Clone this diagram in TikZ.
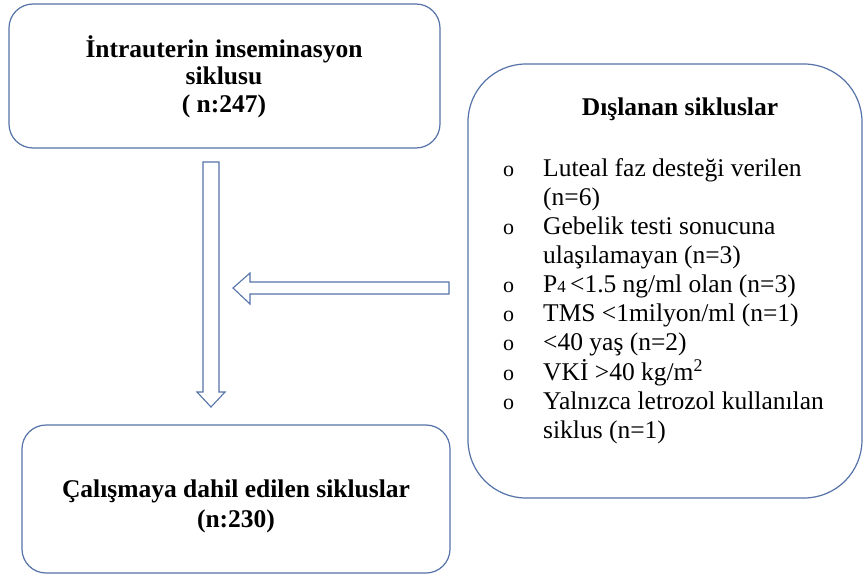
\documentclass[tikz,border=0pt]{standalone}
\usepackage{fontspec}
\setmainfont{Liberation Serif}
\usepackage{array}
\definecolor{bordr}{HTML}{5573A8}
\newcommand{\bulletmark}{{\fontsize{22}{22}\selectfont o}}
\begin{document}
\begin{tikzpicture}[x=1pt,y=-1pt,
  boxstyle/.style={draw=bordr,line width=1.2pt,fill=white,rectangle,inner sep=0pt},
  blockarrow/.style={draw=bordr,line width=1.1pt,fill=white,line join=miter},
  titletext/.style={font=\fontsize{25.5}{27.5}\selectfont\bfseries,align=center}]
\useasboundingbox (0,0) rectangle (865,575);
\node[boxstyle,rounded corners=24pt,minimum width=431pt,minimum height=144pt] (top) at (224.5,76) {};
\node[titletext] (toptext) at (224,76.5) {İntrauterin inseminasyon\\siklusu\\( n:247)};
\node[boxstyle,rounded corners=58pt,minimum width=394pt,minimum height=434pt] (excl) at (665,281) {};
\node[boxstyle,rounded corners=24pt,minimum width=428pt,minimum height=148pt] (incl) at (236,499) {};
\node[titletext,font=\fontsize{25.5}{30}\selectfont\bfseries] (incltext) at (236,506) {Çalışmaya dahil edilen sikluslar\\(n:230)};
\node[titletext] (excltitle) at (680,109) {Dışlanan sikluslar};
\node[anchor=north west,inner sep=0pt,font=\fontsize{25.5}{29}\selectfont,align=left] (list) at (503,156) {%
\begin{tabular}{@{}p{40pt}@{}l@{}}
\bulletmark & Luteal faz desteği verilen\\
  & (n=6)\\
\bulletmark & Gebelik testi sonucuna\\
  & ulaşılamayan (n=3)\\
\bulletmark & P{\fontsize{17}{17}\selectfont 4}\,<1.5 ng/ml olan (n=3)\\
\bulletmark & TMS <1milyon/ml (n=1)\\
\bulletmark & <40 yaş (n=2)\\
\bulletmark & VKİ >40 kg/m\textsuperscript{2}\\
\bulletmark & Yalnızca letrozol kullanılan\\
  & siklus (n=1)
\end{tabular}};
% down arrow from top box to inclusion box
\draw[blockarrow] (203,162) -- (219,162) -- (219,392) -- (225,392) -- (211,407) -- (197,392) -- (203,392) -- cycle;
% left arrow from exclusion box
\draw[blockarrow] (449,282) -- (449,294) -- (250,294) -- (250,304) -- (233,288) -- (250,273) -- (250,282) -- cycle;
\end{tikzpicture}
\end{document}
